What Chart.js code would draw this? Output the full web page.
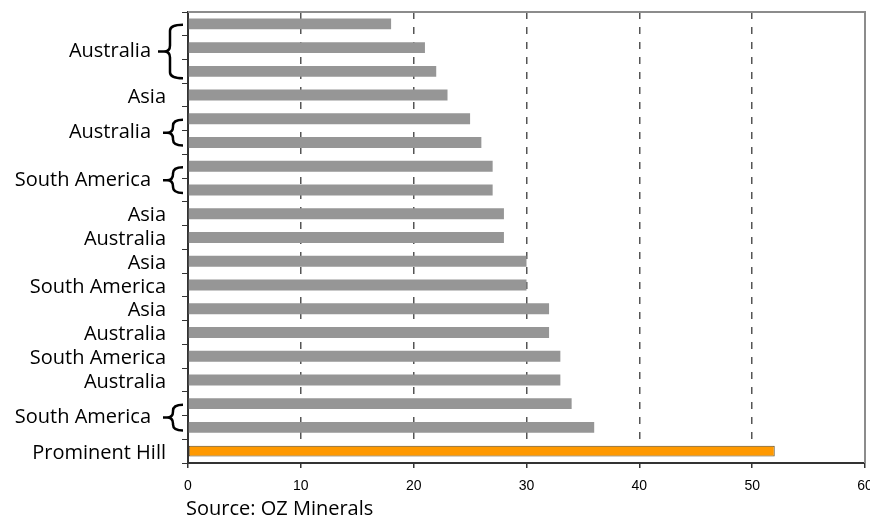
<!DOCTYPE html>
<html>
<head>
<meta charset="utf-8">
<script src="https://cdn.jsdelivr.net/npm/chart.js@4.4.1/dist/chart.umd.min.js"></script>
<style>
  html, body { margin: 0; padding: 0; background: #fff; }
  #wrap { width: 870px; height: 518px; position: relative; }
</style>
</head>
<body>
<div id="wrap"><canvas id="c" width="870" height="518"></canvas></div>
<script>
// Region of each mine, top to bottom
const regions = [
  'Australia', 'Australia', 'Australia', 'Asia', 'Australia', 'Australia',
  'South America', 'South America', 'Asia', 'Australia', 'Asia', 'South America',
  'Asia', 'Australia', 'South America', 'Australia', 'South America', 'South America',
  'Prominent Hill'
];
// Bar lengths, same order
const values = [18, 21, 22, 23, 25, 26, 27, 27, 28, 28, 30, 30, 32, 32, 33, 33, 34, 36, 52];
// Horizontal axis ticks
const xTicks = [0, 10, 20, 30, 40, 50, 60];
const highlight = 'Prominent Hill';
const sourceNote = 'Source: OZ Minerals';

const LABEL_FONT = '20px "Open Sans", "Noto Sans", sans-serif';

// Consecutive bars sharing a region get one label (with a brace when several)
function groupRuns(names) {
  const runs = [];
  names.forEach((n, i) => {
    const last = runs[runs.length - 1];
    if (last && last.name === n) last.end = i;
    else runs.push({ name: n, start: i, end: i });
  });
  return runs;
}

function drawBrace(ctx, xEnd, xBody, xTip, top, bot) {
  const mid = (top + bot) / 2;
  const r = Math.min(6, (bot - top) / 4);
  ctx.beginPath();
  ctx.moveTo(xEnd, top);
  ctx.quadraticCurveTo(xBody, top, xBody, top + r);
  ctx.lineTo(xBody, mid - r);
  ctx.quadraticCurveTo(xBody, mid, xBody - r, mid);
  ctx.lineTo(xTip, mid);
  ctx.moveTo(xBody - r, mid);
  ctx.quadraticCurveTo(xBody, mid, xBody, mid + r);
  ctx.lineTo(xBody, bot - r);
  ctx.quadraticCurveTo(xBody, bot, xEnd, bot);
  ctx.stroke();
}

// Grey frame on the top and right edges of the plot area
const frame = {
  id: 'frame',
  afterDatasetsDraw(chart) {
    const { ctx, chartArea: a } = chart;
    ctx.save();
    ctx.strokeStyle = '#8c8c8c';
    ctx.lineWidth = 2;
    ctx.beginPath();
    ctx.moveTo(a.left, a.top);
    ctx.lineTo(a.right, a.top);
    ctx.lineTo(a.right, a.bottom);
    ctx.stroke();
    ctx.restore();
  }
};

// Region labels, braces and source line
const regionLabels = {
  id: 'regionLabels',
  afterDraw(chart) {
    const { ctx, chartArea: a, scales: { y } } = chart;
    ctx.save();
    ctx.font = LABEL_FONT;
    ctx.fillStyle = '#000';
    ctx.strokeStyle = '#000';
    ctx.lineWidth = 2.5;
    ctx.textAlign = 'right';
    ctx.textBaseline = 'middle';
    groupRuns(regions).forEach(run => {
      const y0 = y.getPixelForValue(run.start);
      const y1 = y.getPixelForValue(run.end);
      if (run.start === run.end) {
        ctx.fillText(run.name, a.left - 22, y0 + 2);
        return;
      }
      const n = run.end - run.start + 1;
      const top = y0 + 1;
      const bot = y1 + 3 + (n - 2) * 4;
      const xEnd = a.left - 5;
      const xBody = a.left - 15 - (n - 2) * 3;
      const xTip = a.left - 25 - (n - 2) * 5;
      drawBrace(ctx, xEnd, xBody, xTip, top, bot);
      ctx.fillText(run.name, a.left - 37, (top + bot) / 2);
    });
    ctx.textAlign = 'left';
    ctx.textBaseline = 'alphabetic';
    ctx.fillText(sourceNote, a.left - 2, 515);
    ctx.restore();
  }
};

new Chart(document.getElementById('c'), {
  type: 'bar',
  data: {
    labels: regions,
    datasets: [{
      data: values,
      backgroundColor: regions.map(r => r === highlight ? '#ff9900' : '#969696'),
      borderColor: regions.map(r => r === highlight ? '#5e4b22' : 'rgba(0,0,0,0)'),
      borderWidth: regions.map(r => r === highlight ? 1 : 0),
      borderSkipped: false,
      barPercentage: 0.46,
      categoryPercentage: 1
    }]
  },
  options: {
    indexAxis: 'y',
    responsive: false,
    animation: false,
    devicePixelRatio: 1,
    layout: { padding: { top: 12, right: 5, left: 0, bottom: 0 } },
    plugins: { legend: { display: false }, tooltip: { enabled: false } },
    scales: {
      x: {
        min: 0,
        max: 60,
        afterBuildTicks: s => { s.ticks = xTicks.map(v => ({ value: v })); },
        ticks: {
          font: { family: '"Liberation Sans", Arial, sans-serif', size: 14 },
          color: '#000',
          padding: 10,
          maxRotation: 0,
          autoSkip: false
        },
        grid: {
          color: c => (c.tick && (c.tick.value === 0 || c.tick.value === 60)) ? 'rgba(0,0,0,0)' : '#555',
          lineWidth: 1.5,
          tickColor: '#333',
          tickLength: 5,
          tickWidth: 1.5
        },
        border: { color: '#333', width: 2, dash: [7, 8] },
        afterFit: s => { s.height = 55; s.paddingLeft = 0; s.paddingRight = 0; }
      },
      y: {
        ticks: { display: false },
        grid: { drawOnChartArea: false, tickLength: 6, tickColor: '#333', offset: true },
        border: { color: '#333', width: 2 },
        afterFit: s => { s.width = 188; }
      }
    }
  },
  plugins: [frame, regionLabels]
});
</script>
</body>
</html>
